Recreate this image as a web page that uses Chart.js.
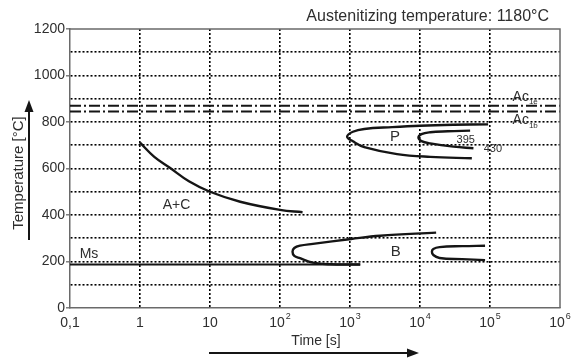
<!DOCTYPE html>
<html>
<head>
<meta charset="utf-8">
<script src="https://cdn.jsdelivr.net/npm/chart.js@4.4.1/dist/chart.umd.min.js"></script>
<style>
  html, body { margin: 0; padding: 0; background: #fff; }
  #wrap { width: 578px; height: 360px; }
</style>
</head>
<body>
<div id="wrap"><canvas id="cct"></canvas></div>
<script>
'use strict'

// x ticks (decades) and labels: [base, exponent]
const xTicks = [0.1, 1, 10, 100, 1e3, 1e4, 1e5, 1e6];
const xTickLabels = [['0,1', ''], ['1', ''], ['10', ''], ['10', '2'], ['10', '3'], ['10', '4'], ['10', '5'], ['10', '6']];

// A+C ferrite/carbide start curve
const acTimes = [1, 1.6, 2.7, 5, 10, 27, 100, 210];
const acTemps = [711, 650, 602, 545, 500, 457, 422, 412];

// pearlite, outer (start) and inner (finish)
const pOuterTimes = [9.4e4, 3e4, 1e4, 4e3, 1.6e3, 1.1e3, 910, 1.1e3, 1.6e3, 4.7e3, 1.4e4, 5.5e4];
const pOuterTemps = [790, 788, 784, 778, 770, 758, 737, 717, 692, 662, 650, 644];
const pInnerTimes = [5.2e4, 2.5e4, 1.4e4, 1.05e4, 9.5e3, 1.05e4, 1.4e4, 3.0e4, 5.8e4];
const pInnerTemps = [763, 760, 756, 748, 733, 718, 708, 694, 687];

// bainite, start and finish
const bOuterTimes = [1.7e4, 2.7e3, 1.04e3, 295, 193, 160, 151, 160, 193, 295, 516, 1.4e3];
const bOuterTemps = [324, 311, 297, 276, 268, 258, 242, 224, 214, 195, 188, 187];
const bInnerTimes = [8.5e4, 4e4, 1.9e4, 1.55e4, 1.48e4, 1.55e4, 1.9e4, 4e4, 8.5e4];
const bInnerTemps = [268, 266, 262, 254, 242, 228, 215, 210, 206];

// martensite start
const msTimes = [0.1, 1.4e3];
const msTemps = [187, 187];

// Ac1e / Ac1b
const ac1eTemp = 870;
const ac1bTemp = 845;

// text labels in data coordinates
const curveLabels = [
	{ text: 'P', x: 4.4e3, y: 735, size: 15 },
	{ text: 'B', x: 4.5e3, y: 241, size: 15 },
	{ text: 'Ms', x: 0.187, y: 232, size: 14 },
	{ text: 'A+C', x: 3.32, y: 443, size: 14 },
	{ text: '395', x: 4.5e4, y: 723, size: 11 },
	{ text: '430', x: 1.1e5, y: 684, size: 11 },
];

const FONT = '"Liberation Sans", Arial, sans-serif';
const INK = '#151515';
const TEXT = '#2e2e2e';

function pts(xs, ys){
	return xs.map((x, i) => ({ x: x, y: ys[i] }));
}

function curve(xs, ys){
	return {
		data: pts(xs, ys),
		showLine: true,
		borderColor: INK,
		borderWidth: 2.4,
		pointRadius: 0,
		tension: 0.4,
		fill: false,
	};
}

function flatLine(temp){
	return {
		data: pts([0.1, 1e6], [temp, temp]),
		showLine: true,
		borderColor: INK,
		borderWidth: 2,
		borderDash: [11, 3, 2, 3],
		pointRadius: 0,
		tension: 0,
	};
}

const decorPlugin = {
	id: 'decor',
	afterDraw(chart){
		const c = chart.ctx;
		const a = chart.chartArea;
		const xs = chart.scales.x, ys = chart.scales.y;
		c.save();

		// frame top & right
		c.strokeStyle = '#6a6a6a';
		c.lineWidth = 1.5;
		c.beginPath();
		c.moveTo(a.left, a.top);
		c.lineTo(a.right, a.top);
		c.lineTo(a.right, a.bottom);
		c.stroke();

		c.fillStyle = TEXT;
		c.textBaseline = 'middle';

		// title
		c.font = '16px ' + FONT;
		c.textAlign = 'right';
		c.fillText('Austenitizing temperature: 1180°C', 549, 17);

		// x tick labels with raised exponents
		c.textAlign = 'left';
		xTicks.forEach((v, i) => {
			const [base, exp] = xTickLabels[i];
			c.font = '14px ' + FONT;
			const bw = c.measureText(base).width;
			c.font = '9px ' + FONT;
			const ew = exp ? c.measureText(exp).width + 1 : 0;
			const left = xs.getPixelForValue(v) - (bw + ew) / 2;
			c.font = '14px ' + FONT;
			c.fillText(base, left, 323);
			if(exp){
				c.font = '9px ' + FONT;
				c.fillText(exp, left + bw + 1, 317);
			}
		});

		// curve labels
		c.textAlign = 'center';
		curveLabels.forEach(l => {
			c.font = l.size + 'px ' + FONT;
			c.fillText(l.text, xs.getPixelForValue(l.x), ys.getPixelForValue(l.y));
		});

		// Ac labels with subscripts
		[['1e', 907], ['1b', 806]].forEach(([sub, t]) => {
			const px = xs.getPixelForValue(2.1e5);
			const py = ys.getPixelForValue(t);
			c.textAlign = 'left';
			c.font = '14px ' + FONT;
			c.fillText('Ac', px, py);
			const w = c.measureText('Ac').width;
			c.font = '8px ' + FONT;
			c.fillText(sub, px + w, py + 5);
		});

		// axis titles
		c.font = '14px ' + FONT;
		c.textAlign = 'center';
		c.fillText('Time [s]', 316, 341);
		c.save();
		c.translate(19, 173);
		c.rotate(-Math.PI / 2);
		c.font = '15px ' + FONT;
		c.fillText('Temperature [°C]', 0, 0);
		c.restore();

		// arrows
		c.strokeStyle = INK;
		c.fillStyle = INK;
		c.lineWidth = 2;
		c.beginPath();
		c.moveTo(209, 353);
		c.lineTo(410, 353);
		c.stroke();
		c.beginPath();
		c.moveTo(419, 353);
		c.lineTo(407, 348.5);
		c.lineTo(407, 357.5);
		c.closePath();
		c.fill();

		c.beginPath();
		c.moveTo(29, 240);
		c.lineTo(29, 109);
		c.stroke();
		c.beginPath();
		c.moveTo(29, 100);
		c.lineTo(24.5, 112);
		c.lineTo(33.5, 112);
		c.closePath();
		c.fill();

		c.restore();
	}
};

new Chart(document.getElementById('cct'), {
	type: 'scatter',
	data: {
		datasets: [
			flatLine(ac1eTemp),
			flatLine(ac1bTemp),
			curve(acTimes, acTemps),
			curve(pOuterTimes, pOuterTemps),
			curve(pInnerTimes, pInnerTemps),
			curve(bOuterTimes, bOuterTemps),
			curve(bInnerTimes, bInnerTemps),
			Object.assign(curve(msTimes, msTemps), { tension: 0, borderWidth: 2.2 }),
		],
	},
	options: {
		responsive: true,
		maintainAspectRatio: false,
		animation: false,
		layout: { padding: { left: 0, right: 18, top: 29, bottom: 0 } },
		plugins: {
			legend: { display: false },
			tooltip: { enabled: false },
		},
		scales: {
			x: {
				type: 'logarithmic',
				min: 0.1,
				max: 1e6,
				afterBuildTicks: (scale) => {
					scale.ticks = xTicks.map(v => ({ value: v }));
				},
				afterFit: (scale) => { scale.height = 52; },
				ticks: {
					display: false,
				},
				grid: {
					drawTicks: false,
					lineWidth: 1.6,
					color: (ctx) => (ctx.tick && (ctx.tick.value === 0.1 || ctx.tick.value === 1e6)) ? 'rgba(0,0,0,0)' : '#000',
				},
				border: { display: true, color: '#6a6a6a', width: 1.5, dash: [2, 2] },
			},
			y: {
				min: 0,
				max: 1200,
				afterFit: (scale) => { scale.width = 70; },
				ticks: {
					stepSize: 100,
					autoSkip: false,
					padding: 1,
					color: TEXT,
					font: { family: FONT, size: 14 },
					callback: (v) => v % 200 === 0 ? v : '',
				},
				grid: {
					drawTicks: true,
					tickLength: 4,
					tickWidth: 1.3,
					tickBorderDash: [],
					tickColor: (ctx) => (ctx.tick && ctx.tick.value % 200 === 0) ? '#6a6a6a' : 'rgba(0,0,0,0)',
					lineWidth: 1.6,
					color: (ctx) => (ctx.tick && (ctx.tick.value === 0 || ctx.tick.value === 1200)) ? 'rgba(0,0,0,0)' : '#000',
				},
				border: { display: true, color: '#6a6a6a', width: 1.5, dash: [2, 2] },
			},
		},
	},
	plugins: [decorPlugin],
});
</script>
</body>
</html>
